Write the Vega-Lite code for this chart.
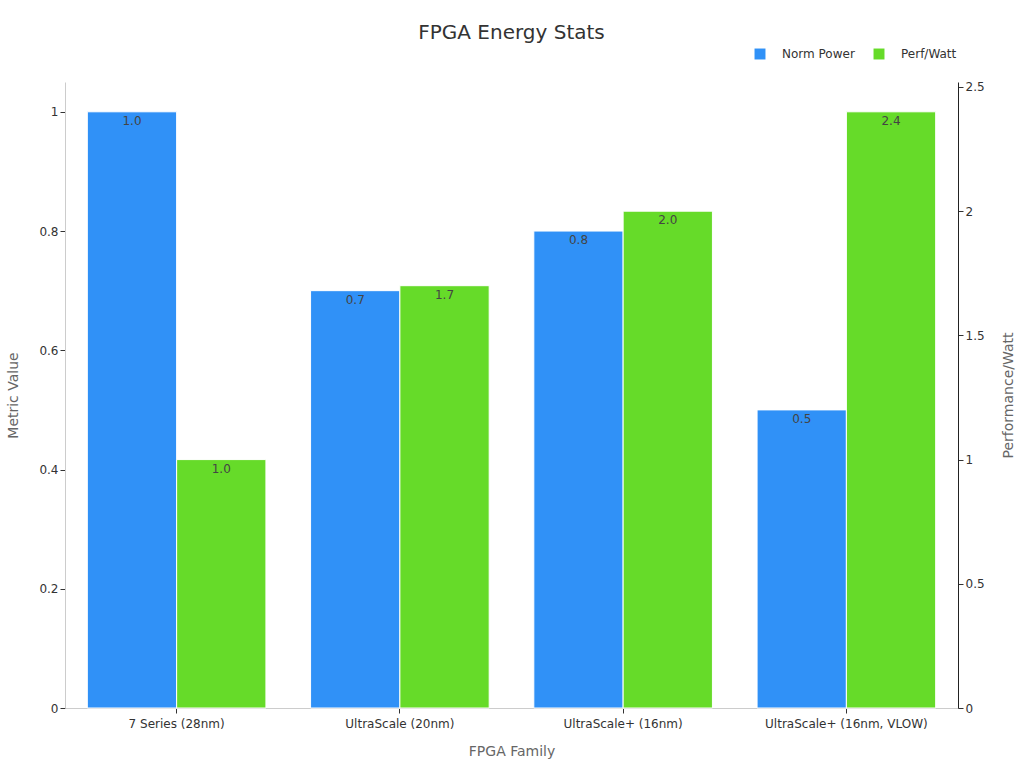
{
  "$schema": "https://vega.github.io/schema/vega-lite/v6.json",
  "autosize": {"type": "none"},
  "padding": {"left": 65, "top": 82, "right": 66, "bottom": 60},
  "width": 893,
  "height": 626,
  "config": {
    "font": "DejaVu Sans",
    "view": {"stroke": null},
    "axis": {"labelFontSize": 12, "labelColor": "#333", "titleFontSize": 14, "titleColor": "#666", "titleFontWeight": "normal", "grid": false, "tickColor": "#333", "domainColor": "#ccc"}
  },
  "title": {"text": "FPGA Energy Stats", "fontSize": 20, "fontWeight": "normal", "color": "#333", "offset": 5},
  "data": {
    "values": [
      {"family": "7 Series (28nm)", "series": "Norm Power", "value": 1.0},
      {"family": "UltraScale (20nm)", "series": "Norm Power", "value": 0.7},
      {"family": "UltraScale+ (16nm)", "series": "Norm Power", "value": 0.8},
      {"family": "UltraScale+ (16nm, VLOW)", "series": "Norm Power", "value": 0.5},
      {"family": "7 Series (28nm)", "series": "Perf/Watt", "value": 1.0},
      {"family": "UltraScale (20nm)", "series": "Perf/Watt", "value": 1.7},
      {"family": "UltraScale+ (16nm)", "series": "Perf/Watt", "value": 2.0},
      {"family": "UltraScale+ (16nm, VLOW)", "series": "Perf/Watt", "value": 2.4}
    ]
  },
  "encoding": {
    "x": {"field": "family", "type": "nominal", "sort": null, "title": "FPGA Family",
          "scale": {"paddingInner": 0.2, "paddingOuter": 0.1},
          "axis": {"labelAngle": 0, "titlePadding": 15, "labelPadding": 5}},
    "xOffset": {"field": "series", "type": "nominal", "scale": {"domain": ["Norm Power", "Perf/Watt"], "padding": 0}},
    "color": {"field": "series", "type": "nominal",
              "scale": {"domain": ["Norm Power", "Perf/Watt"], "range": ["#3091F7", "#66DB29"]},
              "legend": {"title": null, "orient": "none", "direction": "horizontal", "legendX": 689, "legendY": -34,
                         "symbolType": "square", "symbolSize": 120, "symbolStrokeWidth": 0, "labelFontSize": 12, "labelColor": "#333",
                         "labelOffset": 16, "columnPadding": 18}}
  },
  "layer": [
    {
      "transform": [{"filter": "datum.series === 'Norm Power'"}],
      "encoding": {
        "y": {"field": "value", "type": "quantitative", "title": "Metric Value",
              "scale": {"domain": [0, 1.05], "nice": false},
              "axis": {"orient": "left", "values": [0, 0.2, 0.4, 0.6, 0.8, 1], "format": "~g", "titlePadding": 18}}
      },
      "layer": [
        {"mark": {"type": "bar", "stroke": "white", "strokeWidth": 1}},
        {"mark": {"type": "text", "baseline": "top", "dy": 4, "fontSize": 12, "color": "#444"},
         "encoding": {"text": {"field": "value", "format": ".1f"}, "color": {"value": "#444"}}}
      ]
    },
    {
      "transform": [{"filter": "datum.series === 'Perf/Watt'"}],
      "encoding": {
        "y": {"field": "value", "type": "quantitative", "title": "Performance/Watt",
              "scale": {"domain": [0, 2.52], "nice": false},
              "axis": {"orient": "right", "values": [0, 0.5, 1, 1.5, 2, 2.5], "format": "~g", "domainColor": "#222", "titlePadding": 31, "titleAngle": 270}}
      },
      "layer": [
        {"mark": {"type": "bar", "stroke": "white", "strokeWidth": 1}},
        {"mark": {"type": "text", "baseline": "top", "dy": 4, "fontSize": 12, "color": "#444"},
         "encoding": {"text": {"field": "value", "format": ".1f"}, "color": {"value": "#444"}}}
      ]
    }
  ],
  "resolve": {"scale": {"y": "independent"}}
}
